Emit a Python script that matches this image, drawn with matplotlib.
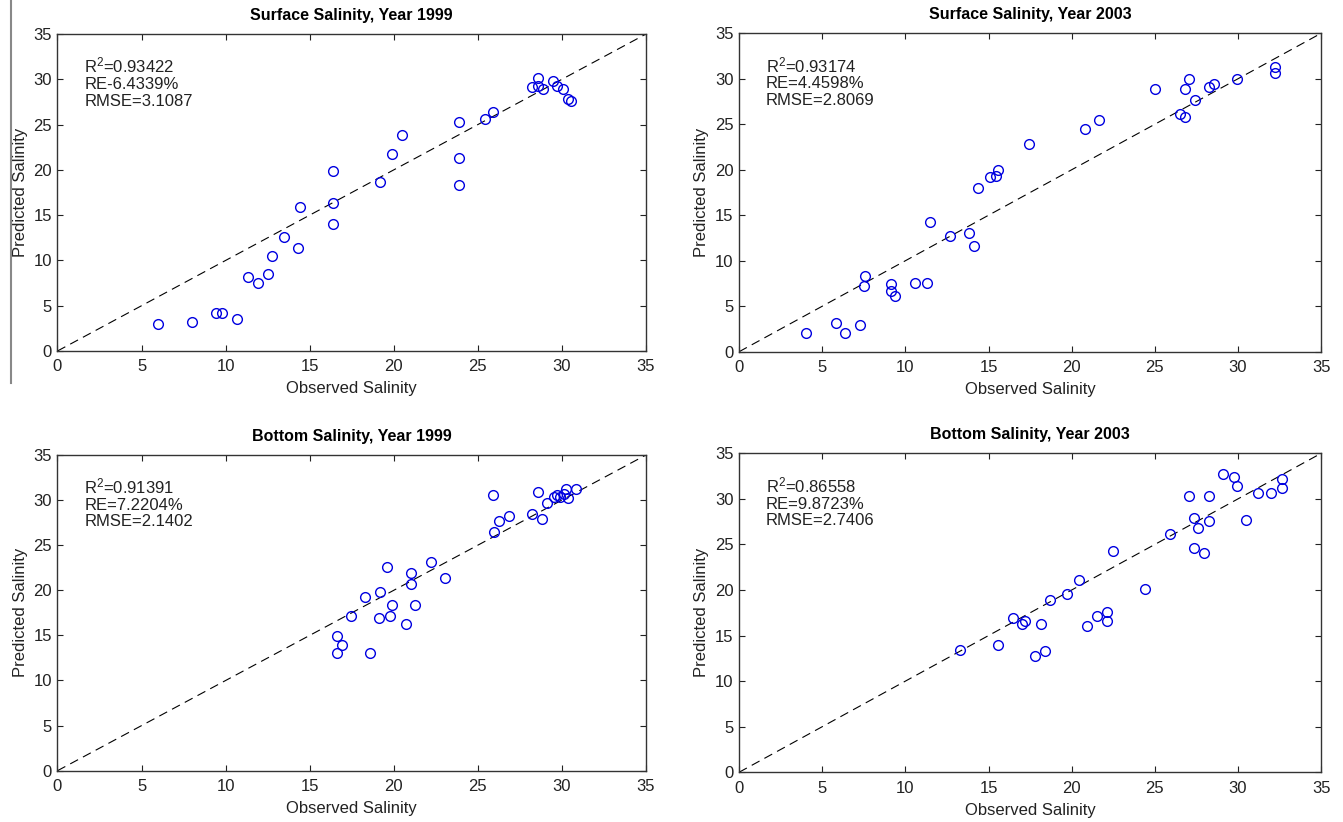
import numpy as np
import matplotlib
matplotlib.use("Agg")
import matplotlib.pyplot as plt
from matplotlib.lines import Line2D

plt.rcParams['font.family'] = ['Liberation Sans', 'DejaVu Sans']
plt.rcParams['mathtext.default'] = 'regular'

# surface salinity, 1999
obs_s99 = [6.0, 8.0, 9.4, 9.8, 10.7, 11.35, 11.9, 12.5, 12.75, 13.5, 14.3, 14.4,
           16.4, 16.4, 16.4, 19.2, 19.9, 20.5, 23.9, 23.9, 23.9, 25.4, 25.9,
           28.2, 28.6, 28.6, 28.85, 29.45, 29.7, 30.05, 30.35, 30.55]
pred_s99 = [3.0, 3.2, 4.15, 4.15, 3.5, 8.15, 7.55, 8.5, 10.5, 12.55, 11.4, 15.9,
            19.9, 16.3, 14.05, 18.7, 21.7, 23.8, 25.3, 21.3, 18.3, 25.6, 26.4,
            29.2, 30.2, 29.25, 28.95, 29.8, 29.25, 28.9, 27.85, 27.55]

# surface salinity, 2003
obs_s03 = [4.0, 5.8, 6.35, 7.25, 7.5, 7.6, 9.15, 9.15, 9.35, 10.55, 11.3, 11.5,
           12.7, 13.8, 14.1, 14.35, 15.1, 15.45, 15.6, 17.45, 20.8, 21.65, 25.0,
           26.5, 26.8, 26.8, 27.05, 27.4, 28.25, 28.55, 29.95, 32.25, 32.25]
pred_s03 = [2.1, 3.2, 2.1, 2.9, 7.25, 8.3, 7.4, 6.7, 6.1, 7.6, 7.6, 14.3,
            12.75, 13.1, 11.6, 18.05, 19.2, 19.3, 19.95, 22.8, 24.5, 25.45, 28.85,
            26.1, 25.75, 28.85, 30.0, 27.65, 29.1, 29.4, 30.0, 31.25, 30.6]

# bottom salinity, 1999
obs_b99 = [16.6, 16.6, 16.95, 17.45, 18.3, 18.6, 19.15, 19.2, 19.6, 19.8, 19.9,
           20.7, 21.0, 21.05, 21.25, 22.2, 23.05, 25.9, 25.95, 26.25, 26.85,
           28.2, 28.55, 28.8, 29.1, 29.55, 29.7, 29.9, 30.1, 30.25, 30.35, 30.85]
pred_b99 = [14.9, 13.05, 13.9, 17.2, 19.25, 13.05, 16.9, 19.85, 22.55, 17.2, 18.4,
            16.3, 20.7, 21.9, 18.4, 23.15, 21.35, 30.6, 26.45, 27.65, 28.2,
            28.5, 30.9, 27.95, 29.7, 30.35, 30.55, 30.35, 30.65, 31.2, 30.2, 31.2]

# bottom salinity, 2003
obs_b03 = [13.3, 15.6, 16.5, 17.0, 17.2, 17.8, 18.15, 18.4, 18.7, 19.75, 20.45,
           20.95, 21.55, 22.1, 22.15, 22.5, 24.4, 25.9, 27.05, 27.35, 27.35,
           27.6, 27.95, 28.25, 28.25, 29.1, 29.75, 29.95, 30.5, 31.2, 32.0,
           32.65, 32.65]
pred_b03 = [13.4, 13.95, 16.9, 16.3, 16.6, 12.75, 16.25, 13.35, 18.95, 19.55, 21.1,
            16.0, 17.1, 16.65, 17.55, 24.3, 20.1, 26.2, 30.3, 27.95, 24.65,
            26.8, 24.05, 30.3, 27.6, 32.7, 32.4, 31.45, 27.7, 30.6, 30.6,
            32.2, 31.15]

titles = ['Surface Salinity, Year 1999', 'Surface Salinity, Year 2003',
          'Bottom Salinity, Year 1999', 'Bottom Salinity, Year 2003']
stats = [('0.93422', 'RE-6.4339%', '3.1087'),
         ('0.93174', 'RE=4.4598%', '2.8069'),
         ('0.91391', 'RE=7.2204%', '2.1402'),
         ('0.86558', 'RE=9.8723%', '2.7406')]
ticks = [0, 5, 10, 15, 20, 25, 30, 35]

panels = [(obs_s99, pred_s99), (obs_s03, pred_s03),
          (obs_b99, pred_b99), (obs_b03, pred_b03)]
boxes = [[0.0428, 0.5730, 0.4382, 0.3856],
         [0.5503, 0.5721, 0.4334, 0.3874],
         [0.0428, 0.0624, 0.4382, 0.3841],
         [0.5503, 0.0605, 0.4334, 0.3880]]

fig = plt.figure(figsize=(13.43, 8.22), dpi=100)

for k in range(4):
    ax = fig.add_axes(boxes[k])
    obs, pred = panels[k]
    ax.plot([0, 35], [0, 35], color='black', lw=0.8, dashes=(8, 5))
    ax.plot(obs, pred, 'o', mfc='none', mec='#0000e0', ms=7, mew=1.0)
    ax.set_xlim(0, 35)
    ax.set_ylim(0, 35)
    ax.set_xticks(ticks)
    ax.set_yticks(ticks)
    ax.tick_params(direction='in', top=True, right=True, length=4,
                   labelsize=12, pad=6, colors='#222222')
    ax.tick_params(axis='y', pad=4)
    for s in ax.spines.values():
        s.set_linewidth(1.0)
        s.set_color('#333333')
    ax.set_title(titles[k], fontsize=11.5, fontweight='bold', pad=10)
    ax.set_xlabel('Observed Salinity', fontsize=12, labelpad=5, color='#222222')
    ax.set_ylabel('Predicted Salinity', fontsize=12, labelpad=4, color='#222222')
    r2, re, rmse = stats[k]
    txt = 'R$^2$=' + r2 + '\n' + re + '\nRMSE=' + rmse
    ax.text(1.6, 32.6, txt, fontsize=12, va='top', ha='left',
            linespacing=1.12, color='#222222')

# thin gray rule on the left edge
fig.add_artist(Line2D([11 / 1343, 11 / 1343], [1.0, 1 - 383 / 822],
                      transform=fig.transFigure, color='#888888', lw=1.5))

fig.savefig('out.png', dpi=100)
